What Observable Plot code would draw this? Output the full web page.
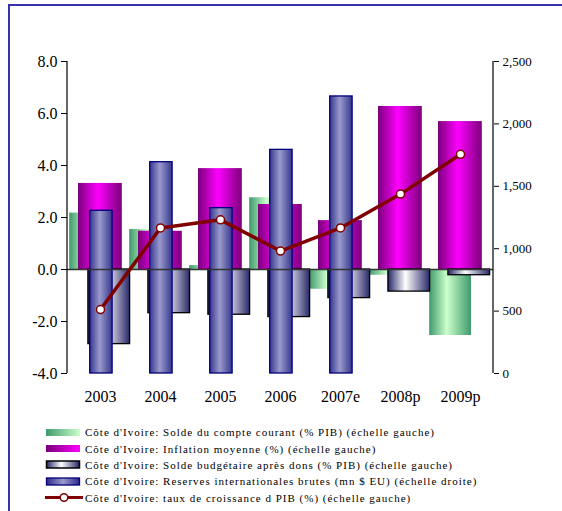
<!DOCTYPE html>
<html>
<head>
<meta charset="utf-8">
<script src="https://cdn.jsdelivr.net/npm/d3@7"></script>
<script src="https://cdn.jsdelivr.net/npm/@observablehq/plot@0.6"></script>
<style>
html, body { margin: 0; padding: 0; background: #fff; overflow: hidden; }
#wrap { position: relative; width: 562px; height: 511px; }
#frame { position: absolute; left: 8px; top: 4px; width: 600px; height: 600px; border-left: 2px solid #3434a8; border-top: 2px solid #3434a8; box-sizing: border-box; }
#chart { position: absolute; left: 0; top: 0; }
#legend { position: absolute; left: 45px; top: 424px; font-family: "Liberation Serif", "Times New Roman", serif; font-size: 11px; letter-spacing: 1px; color: #000; white-space: nowrap; }
.row { height: 16.4px; display: flex; align-items: center; }
.row svg { flex: none; margin-right: 2px; }
</style>
</head>
<body>
<div id="wrap">
  <div id="frame"></div>
  <div id="chart"></div>
  <div id="legend"></div>
</div>
<script>
const categories = ["2003", "2004", "2005", "2006", "2007e", "2008p", "2009p"];
const currentAccount = [2.17, 1.54, 0.15, 2.76, -0.76, -0.22, -2.54];
const inflation = [3.31, 1.47, 3.88, 2.50, 1.88, 6.27, 5.69];
const budget = [-2.87, -1.68, -1.74, -1.83, -1.10, -0.85, -0.22];
const reserves = [1304, 1693, 1325, 1792, 2220, null, null];
const growth = [-1.54, 1.60, 1.91, 0.71, 1.60, 2.90, 4.43];
const leftTicks = [-4, -2, 0, 2, 4, 6, 8];
const rightTicks = [0, 500, 1000, 1500, 2000, 2500];
const legendLabels = [
  "Côte d'Ivoire: Solde du compte courant (% PIB) (échelle gauche)",
  "Côte d'Ivoire: Inflation moyenne (%) (échelle gauche)",
  "Côte d'Ivoire: Solde budgétaire après dons (% PIB) (échelle gauche)",
  "Côte d'Ivoire: Reserves internationales brutes (mn $ EU) (échelle droite)",
  "Côte d'Ivoire: taux de croissance d PIB (%) (échelle gauche)"
];

// right axis (0..2500) mapped onto left axis domain (-4..8)
const toLeft = v => -4 + v / 2500 * 12;
const fromLeft = d => (d + 4) / 12 * 2500;

const rows = categories.map((c, i) => ({
  cat: c, ca: currentAccount[i], inf: inflation[i], bud: budget[i],
  res: reserves[i], gr: growth[i]
}));
const resRows = rows.filter(d => d.res != null).map(d => ({...d, y1: toLeft(0), y2: toLeft(d.res)}));

const serif = "'Liberation Serif', 'Times New Roman', serif";

const plot = Plot.plot({
  width: 562,
  height: 410,
  marginTop: 61,
  marginBottom: 37,
  marginLeft: 67,
  marginRight: 69,
  style: { fontFamily: serif, background: "transparent", overflow: "visible" },
  x: { domain: categories, padding: 0, label: null },
  y: { domain: [-4, 8], label: null },
  marks: [
    Plot.barY(rows, { x: "cat", y: "ca", fill: "url(#gGreen)", insetLeft: -0.8, insetRight: 19 }),
    Plot.barY(rows, { x: "cat", y: "inf", fill: "url(#gMag)", insetLeft: 8, insetRight: 8.2 }),
    Plot.barY(rows, { x: "cat", y: "bud", fill: "url(#gBud)", stroke: "#000", strokeWidth: 1.3, insetLeft: 17.9, insetRight: 0.4 }),
    Plot.barY(resRows, { x: "cat", y1: "y1", y2: "y2", fill: "url(#gBlue)", stroke: "#00007a", strokeWidth: 1.3, insetLeft: 19.7, insetRight: 17.9 }),
    Plot.ruleY([0], { stroke: "#333", strokeWidth: 1.5 }),
    Plot.line(rows, { x: "cat", y: "gr", stroke: "#800000", strokeWidth: 3.5 }),
    Plot.dot(rows, { x: "cat", y: "gr", r: 4, fill: "#fff", stroke: "#800000", strokeWidth: 1.5 }),
    Plot.axisY({ ticks: leftTicks, tickFormat: d => d.toFixed(1), tickSize: 6, tickPadding: 4, fontSize: 16, stroke: "#000", label: null }),
    Plot.axisY({ anchor: "right", ticks: rightTicks.map(toLeft), tickFormat: d => d3.format(",")(Math.round(fromLeft(d))), tickSize: 5, tickPadding: 4, fontSize: 13, stroke: "#000", label: null }),
    Plot.axisX({ tickSize: 0, tickPadding: 17, fontSize: 16, label: null })
  ]
});

// gradients
const defs = d3.select(plot).insert("defs", ":first-child");
function grad(id, stops) {
  const g = defs.append("linearGradient").attr("id", id).attr("x1", 0).attr("x2", 1).attr("y1", 0).attr("y2", 0);
  stops.forEach(([o, c]) => g.append("stop").attr("offset", o).attr("stop-color", c));
}
grad("gGreen", [[0, "#3f9a6c"], [0.42, "#ccffcc"], [1, "#3f9a6c"]]);
grad("gMag", [[0, "#7a007a"], [0.45, "#ff00ff"], [1, "#7a007a"]]);
grad("gBud", [[0, "#262666"], [0.42, "#ffffff"], [1, "#2a2a6a"]]);
grad("gBlue", [[0, "#36368f"], [0.45, "#9a9acc"], [1, "#36368f"]]);

const svg = d3.select(plot);
document.getElementById("chart").appendChild(plot);

// left and right axis lines, positioned through the y scale
const ys = plot.scale("y");
svg.append("line").attr("x1", 67).attr("x2", 67).attr("y1", ys.apply(8)).attr("y2", ys.apply(-4)).attr("stroke", "#000").attr("stroke-width", 1.2);
svg.append("line").attr("x1", 493).attr("x2", 493).attr("y1", ys.apply(8)).attr("y2", ys.apply(-4)).attr("stroke", "#000").attr("stroke-width", 1.2);

// legend
const legend = document.getElementById("legend");
const swatches = [
  `<rect x="1" y="4" width="34" height="7" fill="url(#lGreen)"/>`,
  `<rect x="1" y="4" width="34" height="7" fill="url(#lMag)"/>`,
  `<rect x="1.5" y="4" width="33" height="7" fill="url(#lBud)" stroke="#000" stroke-width="1.5"/>`,
  `<rect x="1.5" y="4" width="33" height="7" fill="url(#lBlue)" stroke="#00007a" stroke-width="1.3"/>`,
  `<line x1="0" x2="38" y1="7.5" y2="7.5" stroke="#800000" stroke-width="3"/><circle cx="19" cy="7.5" r="3.8" fill="#fff" stroke="#800000" stroke-width="1.5"/>`
];
const defsStr = `<defs>
  <linearGradient id="lGreen"><stop offset="0" stop-color="#3f9a6c"/><stop offset="1" stop-color="#ccffcc"/></linearGradient>
  <linearGradient id="lMag"><stop offset="0" stop-color="#7a007a"/><stop offset="1" stop-color="#ff00ff"/></linearGradient>
  <linearGradient id="lBud"><stop offset="0" stop-color="#262666"/><stop offset="0.45" stop-color="#fff"/><stop offset="1" stop-color="#262666"/></linearGradient>
  <linearGradient id="lBlue"><stop offset="0" stop-color="#2a2a8a"/><stop offset="0.5" stop-color="#9a9acc"/><stop offset="1" stop-color="#2a2a8a"/></linearGradient></defs>`;
legendLabels.forEach((t, i) => {
  const row = document.createElement("div");
  row.className = "row";
  row.innerHTML = `<svg width="38" height="15">${i === 0 ? defsStr : ""}${swatches[i]}</svg><span>${t}</span>`;
  legend.appendChild(row);
});
</script>
</body>
</html>
